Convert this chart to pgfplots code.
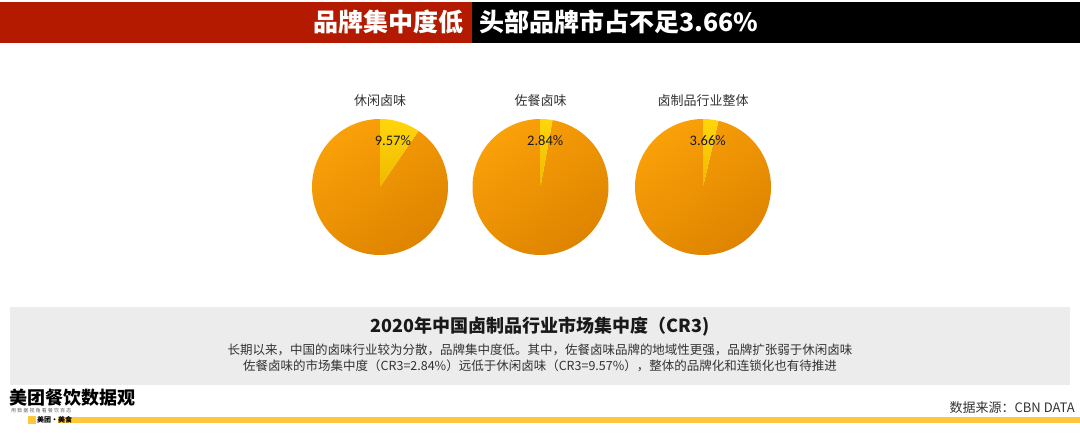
\documentclass[border=0pt]{standalone}
\usepackage{pgfplots}
\pgfplotsset{compat=1.18}
\usepackage{fontspec}
\setmainfont{Noto Sans CJK SC}
\newfontfamily\lat{Carlito}
\definecolor{hdred}{RGB}{180,26,0}
\definecolor{orA}{RGB}{250,160,8}
\definecolor{orB}{RGB}{222,132,0}
\definecolor{yeA}{RGB}{255,214,10}
\definecolor{yeB}{RGB}{240,184,0}
\definecolor{boxgray}{RGB}{236,236,236}
\definecolor{txt}{RGB}{51,51,51}
\definecolor{footyel}{RGB}{255,200,60}
\newcommand{\pie}[4]{%
\begin{axis}[at={(#1pt,-187pt)}, anchor=center, width=136pt, height=136pt, scale only axis,
  hide axis, xmin=-1, xmax=1, ymin=-1, ymax=1, clip=false]
\addplot[draw=none, top color=orA, bottom color=orB, shading angle=35, domain=#3:100, samples=150]
  ({sin(3.6*x)},{cos(3.6*x)}) -- (axis cs:0,0) -- cycle;
\addplot[draw=none, top color=yeA, bottom color=yeB, domain=0:#3, samples=30]
  ({sin(3.6*x)},{cos(3.6*x)}) -- (axis cs:0,0) -- cycle;
\node[font=\lat\fontsize{14.5}{14.5}\selectfont, text=black!90] at (axis cs:#4,0.68) {#3\%};
\end{axis}
\node[font=\fontsize{13}{13}\selectfont, text=txt] at (#1pt,-101pt) {#2};
}
\begin{document}
\begin{tikzpicture}[x=1pt,y=1pt]
\useasboundingbox (0,0) rectangle (1080,-432);
\fill[white] (0,0) rectangle (1080,-432);
\fill[hdred] (0,-2) rectangle (472,-43);
\fill[black] (472,-2) rectangle (1080,-43);
\node[anchor=east, text=white, font=\fontsize{25}{25}\selectfont\bfseries, inner sep=0pt] at (464,-22) {品牌集中度低};
\node[anchor=west, text=white, font=\fontsize{25}{25}\selectfont\bfseries, inner sep=0pt] at (479,-22) {头部品牌市占不足3.66\%};
\pie{380}{休闲卤味}{9.57}{0.19}
\pie{540.5}{佐餐卤味}{2.84}{0.07}
\pie{703}{卤制品行业整体}{3.66}{0.07}
\fill[boxgray] (10,-307) rectangle (1070,-385);
\node[font=\fontsize{18}{18}\selectfont\bfseries, text=black!90] at (540,-327) {2020年中国卤制品行业市场集中度（CR3)};
\node[font=\fontsize{12.5}{12.5}\selectfont, text=txt] at (540,-350) {长期以来，中国的卤味行业较为分散，品牌集中度低。其中，佐餐卤味品牌的地域性更强，品牌扩张弱于休闲卤味};
\node[font=\fontsize{12.5}{12.5}\selectfont, text=txt] at (540,-366) {佐餐卤味的市场集中度（CR3=2.84\%）远低于休闲卤味（CR3=9.57\%），整体的品牌化和连锁化也有待推进};
\node[anchor=west, font=\fontsize{18}{18}\selectfont\bfseries, inner sep=0pt] at (9,-398) {美团餐饮数据观};
\node[anchor=west, font=\fontsize{5}{5}\selectfont, text=black!60, inner sep=0pt] at (11,-411) {用 数 据 视 角 看 餐 饮 百 态};
\fill[footyel] (58,-417) rectangle (1080,-423);
\fill[footyel] (28,-416) rectangle (36,-424);
\node[anchor=west, font=\fontsize{7}{7}\selectfont\bfseries, inner sep=0pt] at (37,-420) {美团·美食};
\node[anchor=east, font=\fontsize{13}{13}\selectfont, text=txt, inner sep=0pt] at (1075,-408) {数据来源：CBN DATA};
\end{tikzpicture}
\end{document}
